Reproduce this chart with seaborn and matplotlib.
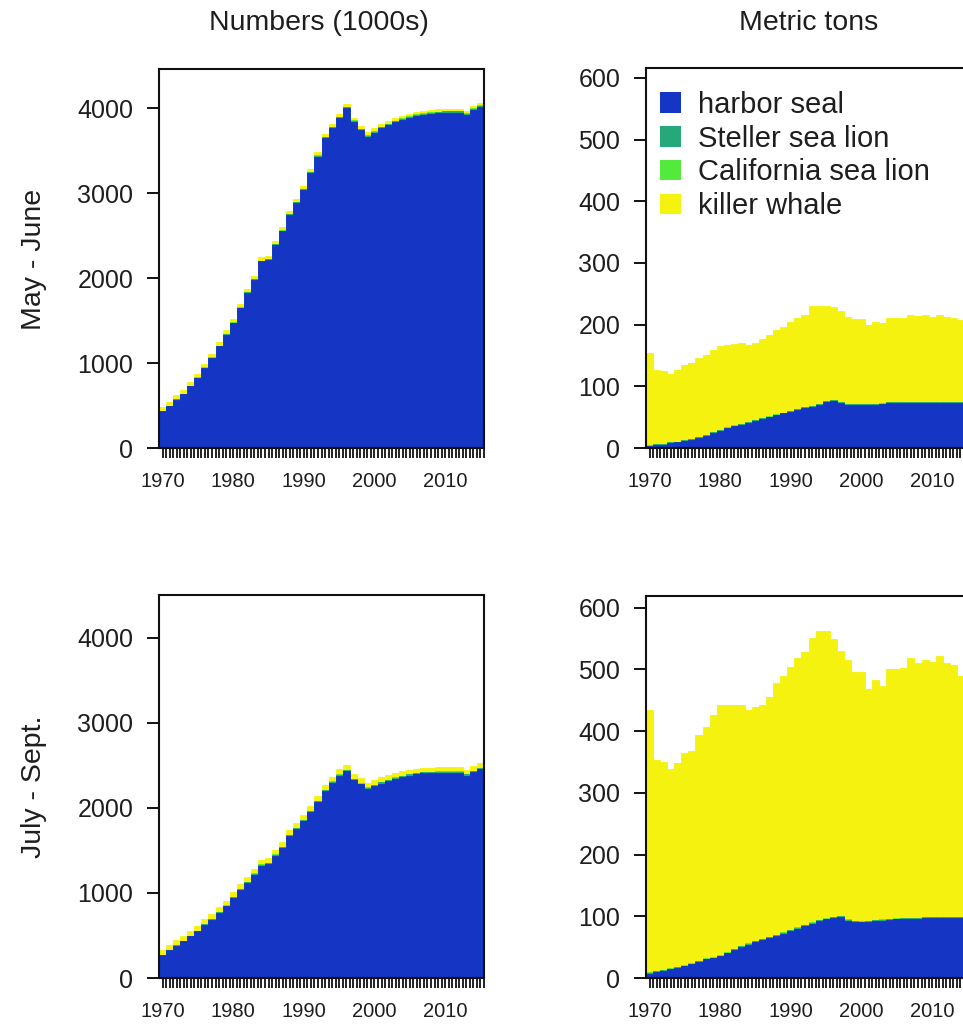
"""
Predator consumption of salmon, stacked by predator, two seasons.
Left column: numbers eaten (1000s), right column: metric tons.
"""

import numpy as np
import matplotlib
matplotlib.use("Agg")
import matplotlib.pyplot as plt
from matplotlib.patches import Patch
import seaborn as sns

years = list(range(1970, 2016))
year_labels = [1970, 1980, 1990, 2000, 2010]

predators = ["harbor seal", "Steller sea lion", "California sea lion", "killer whale"]
colors = ["#1535C4", "#27A87B", "#52EA3C", "#F5F20F"]

# --- Numbers (1000s), May - June ---
harbor_mj_n = [431, 490, 568, 635, 725, 823, 940, 1058, 1196, 1333, 1470, 1646, 1823, 1980, 2195, 2215,
               2390, 2548, 2744, 2881, 3038, 3234, 3430, 3646, 3763, 3881, 3998, 3841, 3743, 3665, 3712,
               3763, 3802, 3834, 3861, 3889, 3908, 3920, 3932, 3940, 3948, 3948, 3948, 3920, 3979, 4018]
steller_mj_n = [4, 4, 4, 4, 5, 5, 5, 5, 6, 6, 6, 6, 7, 7, 7, 7, 8, 8, 8, 8, 9, 9, 9, 9, 10, 10, 10,
                10, 10, 11, 11, 11, 11, 12, 12, 12, 12, 12, 12, 12, 12, 12, 12, 12, 12, 12]
california_mj_n = [2, 2, 2, 2, 2, 2, 3, 3, 3, 3, 3, 3, 3, 3, 4, 4, 4, 4, 4, 4, 4, 4, 5, 5, 5, 5, 5,
                   5, 5, 5, 5, 5, 5, 5, 5, 5, 5, 5, 5, 5, 5, 5, 5, 5, 5, 5]
killer_mj_n = [45, 44, 44, 42, 43, 42, 40, 40, 41, 42, 40, 40, 39, 38, 38, 38, 37, 36, 36, 36, 35, 35,
               34, 34, 34, 33, 33, 32, 32, 32, 32, 31, 31, 31, 31, 30, 30, 30, 30, 30, 30, 30, 30, 30,
               30, 30]

# --- Numbers (1000s), July - Sept. ---
harbor_js_n = [267, 325, 380, 431, 490, 549, 627, 686, 764, 843, 941, 1039, 1117, 1215, 1321, 1340,
               1439, 1529, 1666, 1752, 1842, 1948, 2066, 2195, 2293, 2379, 2430, 2325, 2274, 2223, 2254,
               2285, 2313, 2340, 2360, 2379, 2391, 2403, 2403, 2411, 2411, 2411, 2411, 2379, 2419, 2450]
steller_js_n = [5, 5, 5, 5, 6, 6, 6, 6, 7, 7, 7, 7, 8, 8, 8, 8, 9, 9, 9, 9, 10, 10, 10, 10, 11, 11,
                11, 11, 11, 12, 12, 12, 12, 12, 12, 12, 12, 12, 12, 12, 12, 12, 12, 12, 12, 12]
california_js_n = [3, 3, 3, 3, 3, 3, 4, 4, 4, 4, 4, 4, 4, 5, 5, 5, 5, 5, 5, 5, 6, 6, 6, 6, 6, 6, 6,
                   6, 6, 6, 6, 6, 6, 6, 6, 6, 6, 6, 6, 6, 6, 6, 6, 6, 6, 6]
killer_js_n = [58, 58, 57, 56, 56, 55, 55, 54, 54, 54, 54, 54, 55, 55, 56, 56, 56, 57, 57, 56, 55, 58,
               57, 56, 56, 55, 57, 53, 53, 54, 54, 53, 53, 52, 50, 50, 50, 49, 49, 47, 47, 47, 47, 48,
               48, 55]

# --- Metric tons, May - June ---
harbor_mj_t = [3, 5, 5, 8, 9, 12, 13, 17, 20, 25, 28, 32, 35, 38, 41, 44, 47, 50, 53, 56, 59, 62, 65,
               67, 70, 75, 77, 73, 70, 70, 70, 70, 70, 71, 73, 73, 73, 73, 73, 73, 73, 73, 73, 73, 73, 73]
steller_mj_t = [1.0] * 46
california_mj_t = [0.5] * 46
killer_mj_t = [150, 120, 118, 110, 116, 121, 123, 127, 129, 132, 136, 134, 132, 131, 125, 125, 128,
               132, 137, 139, 144, 148, 149, 161, 159, 154, 150, 147, 141, 137, 137, 128, 132, 130,
               136, 136, 136, 141, 140, 141, 138, 141, 138, 136, 133, 130]

# --- Metric tons, July - Sept. ---
harbor_js_t = [7, 10, 11, 14, 16, 19, 22, 26, 30, 32, 35, 40, 45, 50, 54, 58, 62, 65, 68, 72, 76, 80,
               84, 88, 92, 95, 97, 99, 93, 91, 90, 91, 92, 93, 94, 95, 96, 96, 96, 97, 97, 97, 97, 97,
               97, 98]
steller_js_t = [1.2] * 46
california_js_t = [0.8] * 46
killer_js_t = [425, 342, 337, 322, 331, 343, 344, 365, 375, 392, 406, 401, 396, 391, 378, 379, 378,
               389, 408, 415, 426, 437, 442, 461, 468, 465, 450, 429, 420, 403, 404, 376, 389, 378,
               404, 404, 405, 421, 412, 416, 413, 423, 411, 409, 391, 385]

TEXT = "#1e1e1e"

sns.set_style("ticks")
plt.rcParams["font.family"] = ["Liberation Sans", "DejaVu Sans"]


def draw_panel(ax, layers, ymax, yticks):
    tops = np.cumsum([np.asarray(v, dtype=float) for v in layers], axis=0)
    # paint the tallest stack first, each lower layer covers the one above it
    for top, col in zip(tops[::-1], colors[::-1]):
        sns.barplot(x=years, y=top, color=col, width=1, saturation=1, errorbar=None,
                    edgecolor=col, linewidth=0.6, ax=ax)

    n = len(years)
    ax.set_xlim(-0.5, n - 0.5)
    ax.set_ylim(0, ymax)
    ax.set_xlabel("")
    ax.set_ylabel("")

    ax.set_xticks([years.index(y) for y in year_labels], labels=[str(y) for y in year_labels])
    ax.set_xticks(np.arange(0, n, 0.5), minor=True)
    ax.set_yticks(yticks, labels=[str(t) for t in yticks])

    ax.tick_params(axis="x", which="both", direction="out", length=7.5, width=1.3,
                   color="#111111", pad=10, labelsize=14.5, labelcolor=TEXT)
    ax.tick_params(axis="y", direction="out", length=8.5, width=1.4, color="#111111",
                   pad=10, labelsize=18, labelcolor=TEXT)
    for sp in ax.spines.values():
        sp.set_visible(True)
        sp.set_color("#111111")
        sp.set_linewidth(1.5)


W, H = 963, 1024
fig = plt.figure(figsize=(W / 100, H / 100), dpi=100)


def axes_px(x0, y0, x1, y1):
    return fig.add_axes([x0 / W, 1 - y1 / H, (x1 - x0) / W, (y1 - y0) / H])


ax_tl = axes_px(159, 69, 484, 448)
ax_bl = axes_px(159, 595, 484, 978)
ax_tr = axes_px(646, 68, 971, 448)
ax_br = axes_px(646, 596, 971, 978)

num_ticks = [0, 1000, 2000, 3000, 4000]
ton_ticks = [0, 100, 200, 300, 400, 500, 600]

draw_panel(ax_tl, [harbor_mj_n, steller_mj_n, california_mj_n, killer_mj_n], 4460, num_ticks)
draw_panel(ax_bl, [harbor_js_n, steller_js_n, california_js_n, killer_js_n], 4500, num_ticks)
draw_panel(ax_tr, [harbor_mj_t, steller_mj_t, california_mj_t, killer_mj_t], 616, ton_ticks)
draw_panel(ax_br, [harbor_js_t, steller_js_t, california_js_t, killer_js_t], 619, ton_ticks)

handles = [Patch(facecolor=c, edgecolor="none", label=p) for p, c in zip(predators, colors)]
ax_tr.legend(handles=handles, loc="upper left", bbox_to_anchor=(0.044, 0.94), frameon=False,
             fontsize=21, handlelength=0.7, handleheight=0.7, handletextpad=0.58,
             labelspacing=0.2, borderaxespad=0, borderpad=0, labelcolor=TEXT)

fig.text(319 / W, 1 - 23 / H, "Numbers (1000s)", ha="center", va="center", fontsize=20.5, color=TEXT)
fig.text(809 / W, 1 - 23 / H, "Metric tons", ha="center", va="center", fontsize=20.5, color=TEXT)
fig.text(34 / W, 1 - 259 / H, "May - June", rotation=90, ha="center", va="center", fontsize=20.5,
         color=TEXT)
fig.text(34 / W, 1 - 787 / H, "July - Sept.", rotation=90, ha="center", va="center", fontsize=20.5,
         color=TEXT)

fig.savefig("out.png", dpi=100)
plt.close(fig)
